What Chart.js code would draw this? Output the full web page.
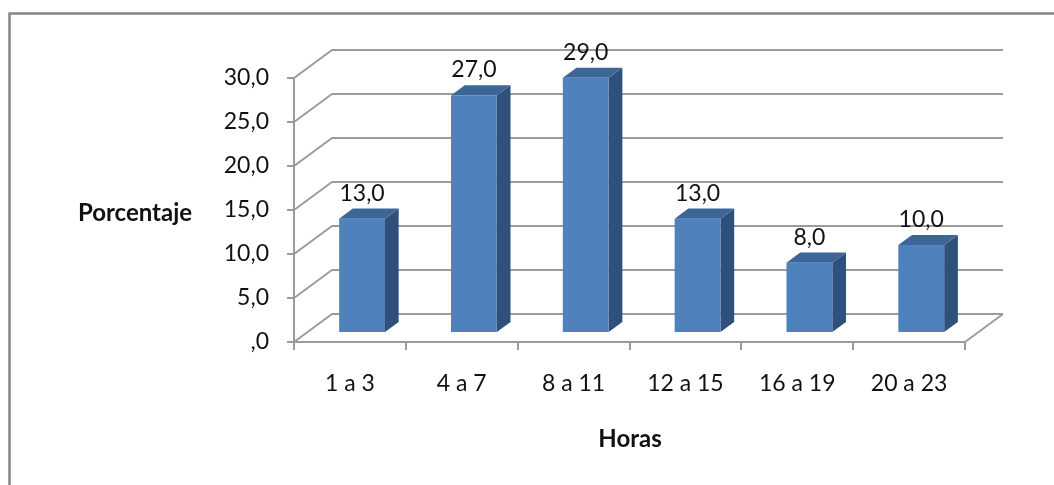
<!DOCTYPE html>
<html><head><meta charset="utf-8">
<script src="https://cdn.jsdelivr.net/npm/chart.js@4/dist/chart.umd.min.js"></script>
<style>html,body{margin:0;padding:0;background:#fff;overflow:hidden}
#wrap{position:absolute;left:0;top:0;width:1054px;height:485px}</style>
</head><body><div id="wrap"><canvas id="c" width="1054" height="485"></canvas></div>
<script>
const categories = ['1 a 3', '4 a 7', '8 a 11', '12 a 15', '16 a 19', '20 a 23'];
const porcentajes = [13.0, 27.0, 29.0, 13.0, 8.0, 10.0];
const yTickValues = [0, 5, 10, 15, 20, 25, 30];
const yTickLabels = [',0', '5,0', '10,0', '15,0', '20,0', '25,0', '30,0'];
const xTitle = 'Horas';
const yTitle = 'Porcentaje';

const FONT = 'Lato, "Open Sans", sans-serif';
const GRID = '#9b9b9b';
const TEXT = '#111111';
const DEPTH = {dx: 38, dy: -28};   // 3D depth vector of the plot box
const F1 = 0.32, F2 = 0.68;        // bar depth position (front / back fraction)
const fmt = v => (v === 0 ? ',0' : v.toFixed(1).replace('.', ','));

const threeD = {
  id: 'threeD',
  beforeDraw(chart) {
    const ctx = chart.ctx;
    ctx.save();
    ctx.strokeStyle = '#878787';
    ctx.lineWidth = 2.5;
    ctx.beginPath();
    ctx.moveTo(9.5, 490);
    ctx.lineTo(9.5, 13.5);
    ctx.lineTo(1060, 13.5);
    ctx.stroke();
    ctx.restore();
  },
  beforeDatasetsDraw(chart) {
    const ctx = chart.ctx, ys = chart.scales.y;
    const L = chart.chartArea.left, R = chart.chartArea.right, B = chart.chartArea.bottom;
    ctx.save();
    ctx.strokeStyle = GRID;
    ctx.lineWidth = 2;
    ctx.lineJoin = 'round';
    yTickValues.forEach(v => {
      const py = ys.getPixelForValue(v);
      ctx.beginPath();
      ctx.moveTo(L, py);
      ctx.lineTo(L + DEPTH.dx, py + DEPTH.dy);
      ctx.lineTo(R + DEPTH.dx, py + DEPTH.dy);
      ctx.stroke();
    });
    // floor right edge
    ctx.beginPath();
    ctx.moveTo(R, B);
    ctx.lineTo(R + DEPTH.dx, B + DEPTH.dy);
    ctx.stroke();
    ctx.restore();
  },
  afterDatasetsDraw(chart) {
    const ctx = chart.ctx;
    const meta = chart.getDatasetMeta(0);
    const sx = DEPTH.dx * (F2 - F1), sy = DEPTH.dy * (F2 - F1);
    ctx.save();
    meta.data.forEach((el, i) => {
      const p = el.getProps(['x', 'y', 'base', 'width'], true);
      const l = p.x - p.width / 2 + DEPTH.dx * F1;
      const r = p.x + p.width / 2 + DEPTH.dx * F1;
      const t = p.y + DEPTH.dy * F1;
      const b = p.base + DEPTH.dy * F1;
      // side face
      ctx.fillStyle = '#2f507b';
      ctx.beginPath();
      ctx.moveTo(r, t); ctx.lineTo(r + sx, t + sy); ctx.lineTo(r + sx, b + sy); ctx.lineTo(r, b);
      ctx.closePath(); ctx.fill();
      // top face
      ctx.fillStyle = '#3d6698';
      ctx.beginPath();
      ctx.moveTo(l, t); ctx.lineTo(l + sx, t + sy); ctx.lineTo(r + sx, t + sy); ctx.lineTo(r, t);
      ctx.closePath(); ctx.fill();
      // front face
      ctx.fillStyle = '#4f81bd';
      ctx.fillRect(l, t, r - l, b - t);
      // data label
      ctx.fillStyle = TEXT;
      ctx.font = '23px ' + FONT;
      ctx.textAlign = 'center';
      ctx.textBaseline = 'alphabetic';
      ctx.fillText(fmt(porcentajes[i]), (l + r) / 2, t + sy - 8);
    });
    // axis titles
    ctx.fillStyle = TEXT;
    ctx.font = 'bold 24px ' + FONT;
    ctx.textAlign = 'center';
    ctx.textBaseline = 'middle';
    ctx.fillText(yTitle, 135, 213);
    ctx.fillText(xTitle, 630, 439);
    ctx.restore();
  }
};

new Chart(document.getElementById('c'), {
  type: 'bar',
  data: {
    labels: categories,
    datasets: [{
      data: porcentajes,
      backgroundColor: 'rgba(0,0,0,0)',
      borderWidth: 0,
      barPercentage: 0.41,
      categoryPercentage: 1.0
    }]
  },
  options: {
    responsive: false,
    devicePixelRatio: 1,
    animation: false,
    events: [],
    layout: {padding: {left: 0, top: 78, right: 89, bottom: 0}},
    plugins: {legend: {display: false}, tooltip: {enabled: false}, title: {display: false}},
    scales: {
      y: {
        min: 0, max: 30,
        afterFit: s => { s.width = 294; },
        afterBuildTicks: s => { s.ticks = yTickValues.map(v => ({value: v})); },
        ticks: {
          callback: (v, i) => yTickLabels[i],
          font: {family: FONT, size: 23},
          color: TEXT,
          padding: 18
        },
        grid: {display: true, drawOnChartArea: false, drawTicks: true, tickLength: 7, color: GRID, lineWidth: 2},
        border: {display: true, color: GRID, width: 2}
      },
      x: {
        afterFit: s => { s.height = 485 - 342; },
        ticks: {
          font: {family: FONT, size: 23},
          color: TEXT,
          padding: 20,
          maxRotation: 0, autoSkip: false
        },
        grid: {display: true, offset: true, drawOnChartArea: false, drawTicks: true, tickLength: 8, color: GRID, lineWidth: 2},
        border: {display: true, color: GRID, width: 2}
      }
    }
  },
  plugins: [threeD]
});
</script>
</body></html>
